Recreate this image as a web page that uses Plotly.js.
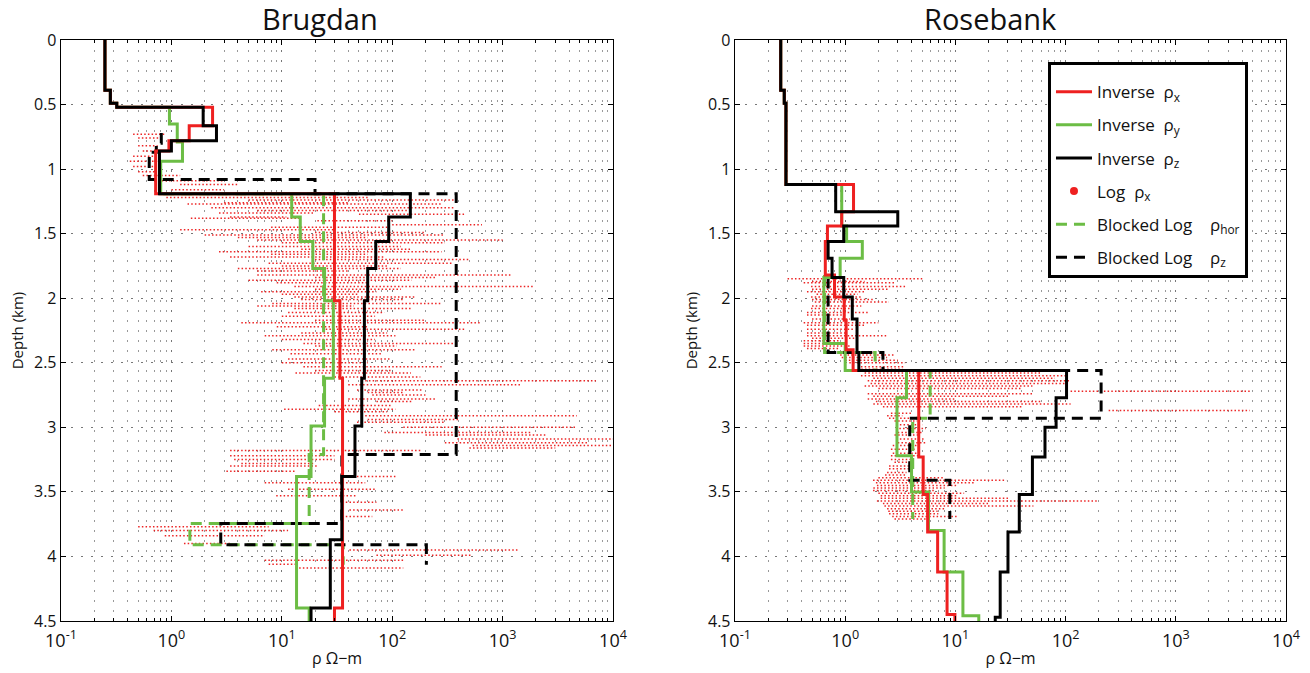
<!DOCTYPE html>
<html><head><meta charset="utf-8">
<script src="https://cdn.plot.ly/plotly-3.0.1.min.js"></script>
<style>html,body{margin:0;padding:0;background:#fff}#chart{width:1310px;height:673px}</style>
</head><body><div id="chart"></div><script>
// ---------- Brugdan ----------
const bru_invz_depth = [0, 0.39, 0.49, 0.52, 0.665, 0.78, 0.86, 1.19, 1.37, 1.56, 1.77, 2.02, 2.62, 2.99, 3.38, 3.87, 4.40, 4.5];
const bru_invz_val   = [0.25, 0.28, 0.32, 1.94, 2.56, 1.0, 0.78, 146, 93, 71, 60, 56, 53, 46, 35, 27.5, 18.4];
const bru_invx_depth = [0, 0.39, 0.49, 0.52, 0.665, 0.78, 0.86, 1.19, 2.02, 2.62, 4.40, 4.5];
const bru_invx_val   = [0.25, 0.28, 0.32, 2.36, 1.45, 0.95, 0.72, 30, 33.6, 35.5, 30];
const bru_invy_depth = [0, 0.39, 0.49, 0.52, 0.65, 0.79, 0.94, 1.19, 1.37, 1.56, 1.77, 2.02, 2.62, 2.99, 3.38, 4.40, 4.5];
const bru_invy_val   = [0.25, 0.28, 0.32, 0.96, 1.13, 1.26, 0.8, 12.3, 14.7, 19.1, 24.4, 29.3, 24.4, 18.4, 13.6, 17.7];
const bru_bz_depth   = [0.72, 0.80, 0.87, 1.08, 1.19, 3.21, 3.745, 3.91, 4.065];
const bru_bz_val     = [0.81, 0.73, 0.63, 20, 380, 35, 2.8, 204];
const bru_bh_depth   = [1.08, 1.19, 3.21, 3.745, 3.91, 4.065];
const bru_bh_val     = [0.78, 23.9, 17.7, 1.47, 36];
// well-log streaks: depth, low value, high value
const bru_log_depth = [0.73,0.76,0.82,0.86,0.90,0.94,0.98,1.02,1.05,1.09,1.12,1.16,1.22,1.24,1.27,1.30,1.34,1.35,1.37,1.40,1.43,1.47,1.51,1.55,1.60,1.64,1.68,1.73,1.77,1.82,1.86,1.91,1.95,1.99,2.04,2.08,2.11,2.19,2.24,2.29,2.35,2.40,2.47,2.53,2.58,2.64,2.71,2.75,2.80,2.83,2.86,2.91,2.96,3.00,3.04,3.09,3.14,3.18,3.22,3.25,3.28,3.30,3.34,3.38,3.43,3.48,3.53,3.58,3.64,3.69,3.77,3.80,3.84,3.90,3.95,3.99,4.03,4.06,4.09,
  1.26,1.32,1.38,1.45,1.49,1.53,1.57,1.62,1.66,1.70,1.75,1.79,1.84,1.88,1.93,1.97,2.01,2.06,2.14,2.17,2.22,2.27,2.32,2.37,2.43,2.50,2.56,2.61,2.67,2.73,2.78,2.88,2.94,3.06,3.12,3.16];
const bru_log_lo    = [0.45,0.5,0.5,0.55,0.45,0.42,0.45,0.5,0.55,0.7,1.2,1.0,0.9,5,1.4,2.3,2.7,50,3.4,21,100,1.2,2,6,5,2.7,3.4,7.6,4,6,5,13,6.5,13,8.2,13,11.4,4.3,25,7,15.7,8.2,11.4,15.7,13.3,57,48,66,72,21.6,10.5,57,48,126,85,390,535,3.4,3.4,3.7,4.3,3.4,3.15,38,7,11.4,8.9,38,41,38,0.5,0.69,0.87,1.3,41,72,7,7.6,13.3,
  3,6,1.5,8,20,4,10,15,8,20,10,6,20,9,20,10,15,6,10,20,9,15,10,20,12,10,20,30,40,60,40,30,60,200,300,500];
const bru_log_hi    = [0.9,0.8,0.75,0.8,0.7,0.75,0.8,0.7,1.2,2.9,4.0,3.0,60,380,280,360,20,450,11,100,650,30,300,1000,120,280,85,360,120,1200,150,1900,72,160,280,150,85,630,450,107,360,160,99,280,148,7000,188,200,150,99,107,4700,300,4700,1800,10000,10000,188,30,30,20,21.6,13.3,107,57,72,48,72,126,66,7.6,11.4,7.0,3.4,1400,535,126,13.3,126,
  40,150,15,90,200,60,300,150,60,500,90,40,250,60,120,50,130,45,70,200,60,90,70,110,80,60,100,180,1500,130,250,90,400,2500,6000,3000];

// ---------- Rosebank ----------
const ros_invz_depth = [0, 0.39, 0.49, 1.12, 1.33, 1.44, 1.56, 1.69, 1.84, 1.99, 2.16, 2.42, 2.56, 2.77, 3.0, 3.23, 3.52, 3.81, 4.12, 4.47, 4.5];
const ros_invz_val   = [0.26, 0.28, 0.29, 0.82, 3.0, 0.97, 0.70, 0.76, 0.97, 1.16, 1.28, 1.33, 102, 82, 65, 50, 38, 30, 25.5, 23];
const ros_invx_depth = [0, 0.39, 0.49, 1.12, 1.33, 1.44, 1.56, 1.82, 1.99, 2.17, 2.4, 2.56, 3.23, 3.52, 3.81, 4.12, 4.45, 4.5];
const ros_invx_val   = [0.26, 0.28, 0.29, 1.19, 0.93, 0.69, 0.66, 0.80, 0.98, 1.02, 1.18, 4.65, 5.1, 5.6, 6.9, 8.4, 9.9];
const ros_invy_depth = [0, 0.39, 0.49, 1.12, 1.44, 1.56, 1.69, 1.84, 2.35, 2.56, 2.77, 3.22, 3.5, 3.8, 4.12, 4.46, 4.5];
const ros_invy_val   = [0.26, 0.28, 0.29, 0.93, 1.03, 1.43, 0.9, 0.64, 1.0, 3.6, 2.95, 4.0, 5.7, 7.9, 11.7, 16.3];
const ros_bz_depth   = [1.84, 2.42, 2.56, 2.93, 3.41, 3.71];
const ros_bz_val     = [0.70, 2.2, 210, 3.85, 8.9];
const ros_bh_depth   = [1.82, 2.42, 2.56, 2.93, 3.71];
const ros_bh_val     = [0.65, 1.87, 5.9, 4.1];
const ros_log_depth = [1.85,1.88,1.91,1.95,1.99,2.03,2.08,2.13,2.19,2.24,2.29,2.33,2.37,2.42,2.46,2.50,2.53,2.60,2.64,2.68,2.72,2.74,2.78,2.82,2.87,2.91,2.95,3.01,3.06,3.12,3.17,3.22,3.27,3.32,3.37,3.41,3.45,3.49,3.53,3.57,3.61,3.65,3.69,
  1.87,1.93,1.97,2.01,2.06,2.11,2.16,2.21,2.27,2.31,2.35,2.39,2.44,2.48,2.55,2.58,2.62,2.66,2.70,2.76,2.80,2.84,2.89,2.93,2.98,3.04,3.09,3.14,3.20,3.25,3.30,3.35,3.39,3.43,3.47,3.51,3.55,3.59,3.63,3.67,3.71];
const ros_log_lo    = [0.3,0.42,0.49,0.45,0.49,0.53,0.49,0.45,0.42,0.45,0.45,0.42,0.42,0.79,0.93,1.09,1.39,1.39,1.6,1.5,111,1.6,1.6,1.8,246,2.4,2.8,3.1,2.8,3.0,2.6,2.6,2.8,2.5,2.3,1.79,1.94,1.79,2.1,1.94,2.27,2.46,2.67,
  0.5,0.5,0.55,0.5,0.5,0.45,0.5,0.45,0.45,0.5,0.42,0.45,0.9,1.0,1.4,1.5,1.8,1.7,2,1.8,1.9,2.2,2.6,2.5,2.9,3.0,2.9,2.7,2.7,2.6,2.5,2.4,2.0,1.9,1.8,2.0,2.1,2.2,2.4,2.5,2.8];
const ros_log_hi    = [5,2.8,3.5,1.5,1.4,2.5,1.2,1.0,2.0,1.2,2.4,0.9,1.1,1.9,2.4,3.5,3.5,102,111,50,4690,50,10,111,4690,3.3,4.5,5.4,4.6,5.4,4.4,4.8,4.0,4.0,3.5,29,10.3,6.4,10.3,197,51,6.9,10.3,
  1.5,2.5,1.3,1.8,1.4,1.6,1.1,1.5,1.0,1.3,0.8,0.9,2.8,3.0,3.3,60,80,100,40,30,60,40,4,4.2,5,5,5.2,4.5,4.6,4.2,3.8,3.6,8,15,8,12,30,20,8,7,6];

// tick labels
const xTickVals  = [0.1, 1, 10, 100, 1000, 10000];
const xTickText  = ['10<sup>-1</sup>','10<sup>0</sup>','10<sup>1</sup>','10<sup>2</sup>','10<sup>3</sup>','10<sup>4</sup>'];
const yTickVals  = [0, 0.5, 1, 1.5, 2, 2.5, 3, 3.5, 4, 4.5];
const yTickText  = ['0','0.5','1','1.5','2','2.5','3','3.5','4','4.5'];
const panelTitles = ['Brugdan', 'Rosebank'];

const RED = '#ee2020', GREEN = '#6cbd45', BLACK = '#000000';
const NB = '\u00a0';
const names = {
  invx: 'Inverse' + NB + NB + 'ρ<sub>x</sub>',
  invy: 'Inverse' + NB + NB + 'ρ<sub>y</sub>',
  invz: 'Inverse' + NB + NB + 'ρ<sub>z</sub>',
  log:  'Log' + NB + NB + 'ρ<sub>x</sub>',
  bh:   'Blocked Log' + NB + NB + NB + NB + 'ρ<sub>hor</sub>',
  bz:   'Blocked Log' + NB + NB + NB + NB + 'ρ<sub>z</sub>'
};

function steps(bounds, vals) {
  const x = [], y = [];
  for (let i = 0; i < vals.length; i++) {
    x.push(vals[i], vals[i]);
    y.push(bounds[i], bounds[i + 1]);
  }
  return {x, y};
}
function streaks(d, lo, hi) {
  const x = [], y = [];
  for (let i = 0; i < d.length; i++) {
    x.push(lo[i], hi[i], null);
    y.push(d[i], d[i], null);
  }
  return {x, y};
}

function panel(ax, legendOn, data) {
  const xa = ax === 1 ? 'x' : 'x2', ya = ax === 1 ? 'y' : 'y2';
  const tr = [];
  const lg = streaks(data.logD, data.logLo, data.logHi);
  tr.push({x: lg.x, y: lg.y, xaxis: xa, yaxis: ya, mode: 'lines', showlegend: false, hoverinfo: 'skip',
           line: {color: 'rgba(236,24,24,0.95)', width: 1.5, dash: '1.5px,2.2px'}});
  const mk = (b, v, color, dash, key, rank) => {
    const s = steps(b, v);
    return {x: s.x, y: s.y, xaxis: xa, yaxis: ya, mode: 'lines', name: names[key],
            legendgroup: key, legendrank: rank, showlegend: legendOn,
            line: {color: color, width: 3, dash: dash}};
  };
  tr.push(mk(data.bhD, data.bhV, GREEN, '11px,7px', 'bh', 5));
  tr.push(mk(data.bzD, data.bzV, BLACK, '11px,7px', 'bz', 6));
  tr.push(mk(data.iyD, data.iyV, GREEN, 'solid', 'invy', 2));
  tr.push(mk(data.ixD, data.ixV, RED, 'solid', 'invx', 1));
  tr.push(mk(data.izD, data.izV, BLACK, 'solid', 'invz', 3));
  if (legendOn) {
    tr.push({x: [null], y: [null], xaxis: xa, yaxis: ya, mode: 'markers', name: names.log,
             legendgroup: 'log', legendrank: 4, marker: {color: RED, size: 8}});
  }
  return tr;
}

const traces = [].concat(
  panel(1, false, {logD: bru_log_depth, logLo: bru_log_lo, logHi: bru_log_hi,
    bhD: bru_bh_depth, bhV: bru_bh_val, bzD: bru_bz_depth, bzV: bru_bz_val,
    iyD: bru_invy_depth, iyV: bru_invy_val, ixD: bru_invx_depth, ixV: bru_invx_val,
    izD: bru_invz_depth, izV: bru_invz_val}),
  panel(2, true, {logD: ros_log_depth, logLo: ros_log_lo, logHi: ros_log_hi,
    bhD: ros_bh_depth, bhV: ros_bh_val, bzD: ros_bz_depth, bzV: ros_bz_val,
    iyD: ros_invy_depth, iyV: ros_invy_val, ixD: ros_invx_depth, ixV: ros_invx_val,
    izD: ros_invz_depth, izV: ros_invz_val})
);

const FONT = 'Open Sans, Noto Sans, sans-serif';
function xAxis(domain, anchor) {
  return {type: 'log', range: [-1, 4], domain: domain, anchor: anchor,
    tickvals: xTickVals, ticktext: xTickText, tickfont: {size: 18, color: '#111', family: FONT},
    ticklabelstandoff: 3,
    ticks: 'inside', ticklen: 5, tickcolor: '#000', mirror: 'allticks', showline: true, linecolor: '#000', linewidth: 1.3,
    showgrid: true, gridcolor: '#777', griddash: '2px,8px', gridwidth: 1.2,
    minor: {dtick: 'D1', showgrid: true, gridcolor: '#999', griddash: '2px,8px', gridwidth: 1, ticks: 'inside', ticklen: 3, tickcolor: '#000'},
    zeroline: false, fixedrange: true,
    title: {text: 'ρ Ω−m', font: {size: 16, color: '#111', family: FONT}, standoff: 2}};
}
function yAxis(anchor) {
  return {range: [4.5, 0], anchor: anchor, domain: [0, 1],
    tickvals: yTickVals, ticktext: yTickText, tickfont: {size: 16, color: '#111', family: FONT},
    ticks: 'inside', ticklen: 5, tickcolor: '#000', mirror: 'allticks', showline: true, linecolor: '#000', linewidth: 1.3,
    showgrid: true, gridcolor: '#777', griddash: '2px,8px', gridwidth: 1.2, zeroline: false, fixedrange: true,
    title: {text: 'Depth (km)', font: {size: 15, color: '#111', family: FONT}, standoff: 6}};
}

const layout = {
  width: 1310, height: 673,
  margin: {l: 61, r: 24, t: 40, b: 52},
  paper_bgcolor: '#fff', plot_bgcolor: '#fff',
  font: {family: FONT, color: '#111'},
  xaxis: xAxis([0, 0.4506], 'y'),
  yaxis: yAxis('x'),
  xaxis2: xAxis([0.5502, 1], 'y2'),
  yaxis2: yAxis('x2'),
  showlegend: true,
  legend: {x: 0.8057, y: 0.962, xanchor: 'left', yanchor: 'top', xref: 'paper', yref: 'paper',
    bgcolor: '#fff', bordercolor: '#000', borderwidth: 3,
    title: {text: ' ', font: {size: 7}},
    font: {size: 17, family: FONT, color: '#111'}, traceorder: 'grouped', tracegroupgap: 8,
    itemwidth: 36},
  annotations: [
    {text: panelTitles[0], xref: 'paper', yref: 'paper', x: (320 - 61) / 1225, y: (621 - 19) / 581,
     xanchor: 'center', yanchor: 'middle', showarrow: false, font: {size: 29, family: FONT, color: '#111'}},
    {text: panelTitles[1], xref: 'paper', yref: 'paper', x: (990 - 61) / 1225, y: (621 - 19) / 581,
     xanchor: 'center', yanchor: 'middle', showarrow: false, font: {size: 29, family: FONT, color: '#111'}}
  ]
};

Plotly.newPlot('chart', traces, layout, {displayModeBar: false, staticPlot: true});
</script></body></html>
